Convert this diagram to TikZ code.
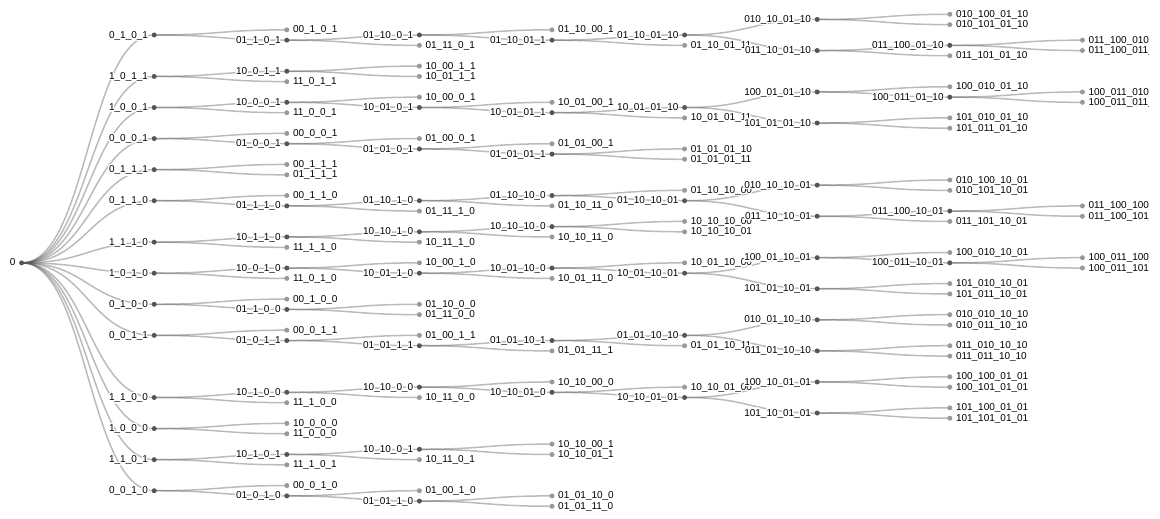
\documentclass[tikz,border=0pt]{standalone}
\usepackage{fontspec}
\setmainfont{Liberation Sans}
\usepackage{contour}
\contourlength{1.4pt}
\contournumber{16}
\pgfdeclarelayer{bg}
\pgfsetlayers{bg,main}
\definecolor{dk}{HTML}{555555}
\definecolor{lt}{HTML}{999999}
\tikzset{
 idot/.style={circle, fill=dk, inner sep=0pt, minimum size=5pt},
 ldot/.style={circle, fill=lt, inner sep=0pt, minimum size=5pt},
 lbl/.style={font=\fontsize{10}{12}\selectfont, inner sep=0pt, text=black},
 link/.style={draw=dk, draw opacity=0.4, line width=1.5pt}
}
\newcommand\Inode[3]{\node[idot] (n#1) at ({21.6+132.6*#2},{35+5.1786*#3}) {};
 \node[lbl, anchor=base east] (t#1) at ([xshift=-6pt,yshift=-3.1pt]n#1.center) {\contour{white}{#1}};}
\newcommand\Lnode[3]{\node[ldot] (n#1) at ({21.6+132.6*#2},{35+5.1786*#3}) {};
 \node[lbl, anchor=base west] (t#1) at ([xshift=6pt,yshift=-3.1pt]n#1.center) {\contour{white}{#1}};}
\newcommand\Lk[2]{\draw[link] (n#1.center) .. controls +(66.3,0) and +(-66.3,0) .. (n#2.center);}
\newcommand\Kids[3]{\Lk{#1}{#2}\Lk{#1}{#3}}
\catcode`\_=12
\begin{document}
\begin{tikzpicture}[x=1pt,y=-1pt]
\useasboundingbox (0,0) rectangle (1160,519);
\clip (0,0) rectangle (1148,519);
\Inode{0}{0}{44}
% level 1
\Inode{0_1_0_1}{1}{0}
\Inode{1_0_1_1}{1}{8}
\Inode{1_0_0_1}{1}{14}
\Inode{0_0_0_1}{1}{20}
\Inode{0_1_1_1}{1}{26}
\Inode{0_1_1_0}{1}{32}
\Inode{1_1_1_0}{1}{40}
\Inode{1_0_1_0}{1}{46}
\Inode{0_1_0_0}{1}{52}
\Inode{0_0_1_1}{1}{58}
\Inode{1_1_0_0}{1}{70}
\Inode{1_0_0_0}{1}{76}
\Inode{1_1_0_1}{1}{82}
\Inode{0_0_1_0}{1}{88}
% level 2
\Lnode{00_1_0_1}{2}{-1} \Inode{01_1_0_1}{2}{1}
\Inode{10_0_1_1}{2}{7} \Lnode{11_0_1_1}{2}{9}
\Inode{10_0_0_1}{2}{13} \Lnode{11_0_0_1}{2}{15}
\Lnode{00_0_0_1}{2}{19} \Inode{01_0_0_1}{2}{21}
\Lnode{00_1_1_1}{2}{25} \Lnode{01_1_1_1}{2}{27}
\Lnode{00_1_1_0}{2}{31} \Inode{01_1_1_0}{2}{33}
\Inode{10_1_1_0}{2}{39} \Lnode{11_1_1_0}{2}{41}
\Inode{10_0_1_0}{2}{45} \Lnode{11_0_1_0}{2}{47}
\Lnode{00_1_0_0}{2}{51} \Inode{01_1_0_0}{2}{53}
\Lnode{00_0_1_1}{2}{57} \Inode{01_0_1_1}{2}{59}
\Inode{10_1_0_0}{2}{69} \Lnode{11_1_0_0}{2}{71}
\Lnode{10_0_0_0}{2}{75} \Lnode{11_0_0_0}{2}{77}
\Inode{10_1_0_1}{2}{81} \Lnode{11_1_0_1}{2}{83}
\Lnode{00_0_1_0}{2}{87} \Inode{01_0_1_0}{2}{89}
% level 3
\Inode{01_10_0_1}{3}{0} \Lnode{01_11_0_1}{3}{2}
\Lnode{10_00_1_1}{3}{6} \Lnode{10_01_1_1}{3}{8}
\Lnode{10_00_0_1}{3}{12} \Inode{10_01_0_1}{3}{14}
\Lnode{01_00_0_1}{3}{20} \Inode{01_01_0_1}{3}{22}
\Inode{01_10_1_0}{3}{32} \Lnode{01_11_1_0}{3}{34}
\Inode{10_10_1_0}{3}{38} \Lnode{10_11_1_0}{3}{40}
\Lnode{10_00_1_0}{3}{44} \Inode{10_01_1_0}{3}{46}
\Lnode{01_10_0_0}{3}{52} \Lnode{01_11_0_0}{3}{54}
\Lnode{01_00_1_1}{3}{58} \Inode{01_01_1_1}{3}{60}
\Inode{10_10_0_0}{3}{68} \Lnode{10_11_0_0}{3}{70}
\Inode{10_10_0_1}{3}{80} \Lnode{10_11_0_1}{3}{82}
\Lnode{01_00_1_0}{3}{88} \Inode{01_01_1_0}{3}{90}
% level 4
\Lnode{01_10_00_1}{4}{-1} \Inode{01_10_01_1}{4}{1}
\Lnode{10_01_00_1}{4}{13} \Inode{10_01_01_1}{4}{15}
\Lnode{01_01_00_1}{4}{21} \Inode{01_01_01_1}{4}{23}
\Inode{01_10_10_0}{4}{31} \Lnode{01_10_11_0}{4}{33}
\Inode{10_10_10_0}{4}{37} \Lnode{10_10_11_0}{4}{39}
\Inode{10_01_10_0}{4}{45} \Lnode{10_01_11_0}{4}{47}
\Inode{01_01_10_1}{4}{59} \Lnode{01_01_11_1}{4}{61}
\Lnode{10_10_00_0}{4}{67} \Inode{10_10_01_0}{4}{69}
\Lnode{10_10_00_1}{4}{79} \Lnode{10_10_01_1}{4}{81}
\Lnode{01_01_10_0}{4}{89} \Lnode{01_01_11_0}{4}{91}
% level 5
\Inode{01_10_01_10}{5}{0} \Lnode{01_10_01_11}{5}{2}
\Inode{10_01_01_10}{5}{14} \Lnode{10_01_01_11}{5}{16}
\Lnode{01_01_01_10}{5}{22} \Lnode{01_01_01_11}{5}{24}
\Lnode{01_10_10_00}{5}{30} \Inode{01_10_10_01}{5}{32}
\Lnode{10_10_10_00}{5}{36} \Lnode{10_10_10_01}{5}{38}
\Lnode{10_01_10_00}{5}{44} \Inode{10_01_10_01}{5}{46}
\Inode{01_01_10_10}{5}{58} \Lnode{01_01_10_11}{5}{60}
\Lnode{10_10_01_00}{5}{68} \Inode{10_10_01_01}{5}{70}
% level 6
\Inode{010_10_01_10}{6}{-3} \Inode{011_10_01_10}{6}{3}
\Inode{100_01_01_10}{6}{11} \Inode{101_01_01_10}{6}{17}
\Inode{010_10_10_01}{6}{29} \Inode{011_10_10_01}{6}{35}
\Inode{100_01_10_01}{6}{43} \Inode{101_01_10_01}{6}{49}
\Inode{010_01_10_10}{6}{55} \Inode{011_01_10_10}{6}{61}
\Inode{100_10_01_01}{6}{67} \Inode{101_10_01_01}{6}{73}
% level 7
\Lnode{010_100_01_10}{7}{-4} \Lnode{010_101_01_10}{7}{-2}
\Inode{011_100_01_10}{7}{2} \Lnode{011_101_01_10}{7}{4}
\Lnode{100_010_01_10}{7}{10} \Inode{100_011_01_10}{7}{12}
\Lnode{101_010_01_10}{7}{16} \Lnode{101_011_01_10}{7}{18}
\Lnode{010_100_10_01}{7}{28} \Lnode{010_101_10_01}{7}{30}
\Inode{011_100_10_01}{7}{34} \Lnode{011_101_10_01}{7}{36}
\Lnode{100_010_10_01}{7}{42} \Inode{100_011_10_01}{7}{44}
\Lnode{101_010_10_01}{7}{48} \Lnode{101_011_10_01}{7}{50}
\Lnode{010_010_10_10}{7}{54} \Lnode{010_011_10_10}{7}{56}
\Lnode{011_010_10_10}{7}{60} \Lnode{011_011_10_10}{7}{62}
\Lnode{100_100_01_01}{7}{66} \Lnode{100_101_01_01}{7}{68}
\Lnode{101_100_01_01}{7}{72} \Lnode{101_101_01_01}{7}{74}
% level 8
\Lnode{011_100_010_10}{8}{1} \Lnode{011_100_011_10}{8}{3}
\Lnode{100_011_010_10}{8}{11} \Lnode{100_011_011_10}{8}{13}
\Lnode{011_100_100_01}{8}{33} \Lnode{011_100_101_01}{8}{35}
\Lnode{100_011_100_01}{8}{43} \Lnode{100_011_101_01}{8}{45}
% links
\begin{pgfonlayer}{bg}
\Lk{0}{0_1_0_1}\Lk{0}{1_0_1_1}\Lk{0}{1_0_0_1}\Lk{0}{0_0_0_1}\Lk{0}{0_1_1_1}
\Lk{0}{0_1_1_0}\Lk{0}{1_1_1_0}\Lk{0}{1_0_1_0}\Lk{0}{0_1_0_0}\Lk{0}{0_0_1_1}
\Lk{0}{1_1_0_0}\Lk{0}{1_0_0_0}\Lk{0}{1_1_0_1}\Lk{0}{0_0_1_0}
\Kids{0_1_0_1}{00_1_0_1}{01_1_0_1}
\Kids{1_0_1_1}{10_0_1_1}{11_0_1_1}
\Kids{1_0_0_1}{10_0_0_1}{11_0_0_1}
\Kids{0_0_0_1}{00_0_0_1}{01_0_0_1}
\Kids{0_1_1_1}{00_1_1_1}{01_1_1_1}
\Kids{0_1_1_0}{00_1_1_0}{01_1_1_0}
\Kids{1_1_1_0}{10_1_1_0}{11_1_1_0}
\Kids{1_0_1_0}{10_0_1_0}{11_0_1_0}
\Kids{0_1_0_0}{00_1_0_0}{01_1_0_0}
\Kids{0_0_1_1}{00_0_1_1}{01_0_1_1}
\Kids{1_1_0_0}{10_1_0_0}{11_1_0_0}
\Kids{1_0_0_0}{10_0_0_0}{11_0_0_0}
\Kids{1_1_0_1}{10_1_0_1}{11_1_0_1}
\Kids{0_0_1_0}{00_0_1_0}{01_0_1_0}
\Kids{01_1_0_1}{01_10_0_1}{01_11_0_1}
\Kids{10_0_1_1}{10_00_1_1}{10_01_1_1}
\Kids{10_0_0_1}{10_00_0_1}{10_01_0_1}
\Kids{01_0_0_1}{01_00_0_1}{01_01_0_1}
\Kids{01_1_1_0}{01_10_1_0}{01_11_1_0}
\Kids{10_1_1_0}{10_10_1_0}{10_11_1_0}
\Kids{10_0_1_0}{10_00_1_0}{10_01_1_0}
\Kids{01_1_0_0}{01_10_0_0}{01_11_0_0}
\Kids{01_0_1_1}{01_00_1_1}{01_01_1_1}
\Kids{10_1_0_0}{10_10_0_0}{10_11_0_0}
\Kids{10_1_0_1}{10_10_0_1}{10_11_0_1}
\Kids{01_0_1_0}{01_00_1_0}{01_01_1_0}
\Kids{01_10_0_1}{01_10_00_1}{01_10_01_1}
\Kids{10_01_0_1}{10_01_00_1}{10_01_01_1}
\Kids{01_01_0_1}{01_01_00_1}{01_01_01_1}
\Kids{01_10_1_0}{01_10_10_0}{01_10_11_0}
\Kids{10_10_1_0}{10_10_10_0}{10_10_11_0}
\Kids{10_01_1_0}{10_01_10_0}{10_01_11_0}
\Kids{01_01_1_1}{01_01_10_1}{01_01_11_1}
\Kids{10_10_0_0}{10_10_00_0}{10_10_01_0}
\Kids{10_10_0_1}{10_10_00_1}{10_10_01_1}
\Kids{01_01_1_0}{01_01_10_0}{01_01_11_0}
\Kids{01_10_01_1}{01_10_01_10}{01_10_01_11}
\Kids{10_01_01_1}{10_01_01_10}{10_01_01_11}
\Kids{01_01_01_1}{01_01_01_10}{01_01_01_11}
\Kids{01_10_10_0}{01_10_10_00}{01_10_10_01}
\Kids{10_10_10_0}{10_10_10_00}{10_10_10_01}
\Kids{10_01_10_0}{10_01_10_00}{10_01_10_01}
\Kids{01_01_10_1}{01_01_10_10}{01_01_10_11}
\Kids{10_10_01_0}{10_10_01_00}{10_10_01_01}
\Kids{01_10_01_10}{010_10_01_10}{011_10_01_10}
\Kids{10_01_01_10}{100_01_01_10}{101_01_01_10}
\Kids{01_10_10_01}{010_10_10_01}{011_10_10_01}
\Kids{10_01_10_01}{100_01_10_01}{101_01_10_01}
\Kids{01_01_10_10}{010_01_10_10}{011_01_10_10}
\Kids{10_10_01_01}{100_10_01_01}{101_10_01_01}
\Kids{010_10_01_10}{010_100_01_10}{010_101_01_10}
\Kids{011_10_01_10}{011_100_01_10}{011_101_01_10}
\Kids{100_01_01_10}{100_010_01_10}{100_011_01_10}
\Kids{101_01_01_10}{101_010_01_10}{101_011_01_10}
\Kids{010_10_10_01}{010_100_10_01}{010_101_10_01}
\Kids{011_10_10_01}{011_100_10_01}{011_101_10_01}
\Kids{100_01_10_01}{100_010_10_01}{100_011_10_01}
\Kids{101_01_10_01}{101_010_10_01}{101_011_10_01}
\Kids{010_01_10_10}{010_010_10_10}{010_011_10_10}
\Kids{011_01_10_10}{011_010_10_10}{011_011_10_10}
\Kids{100_10_01_01}{100_100_01_01}{100_101_01_01}
\Kids{101_10_01_01}{101_100_01_01}{101_101_01_01}
\Kids{011_100_01_10}{011_100_010_10}{011_100_011_10}
\Kids{100_011_01_10}{100_011_010_10}{100_011_011_10}
\Kids{011_100_10_01}{011_100_100_01}{011_100_101_01}
\Kids{100_011_10_01}{100_011_100_01}{100_011_101_01}
\end{pgfonlayer}
\end{tikzpicture}
\end{document}
